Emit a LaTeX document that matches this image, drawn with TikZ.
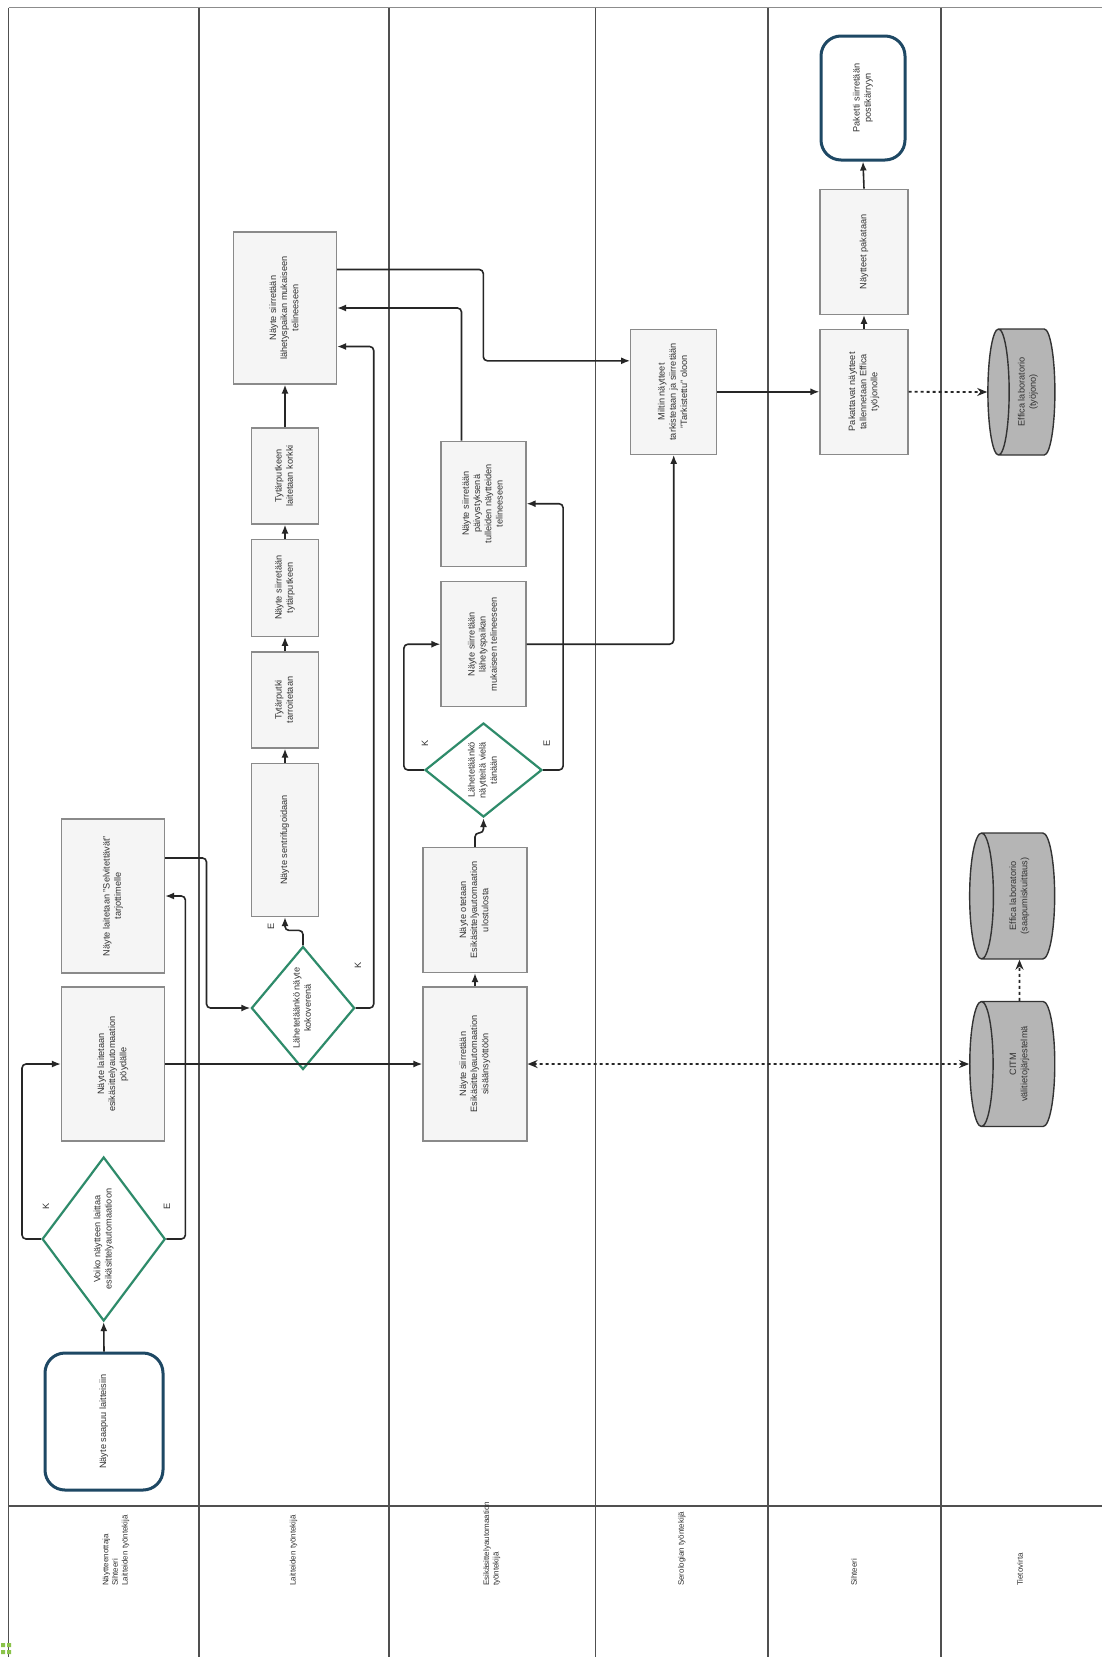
\documentclass[tikz,border=0pt]{standalone}
\usepackage{fontspec}
\setmainfont{Liberation Sans}
\usetikzlibrary{shapes.geometric,arrows.meta,calc}
\newcommand{\rt}[1]{\rotatebox{90}{\begin{tabular}{@{}c@{}}#1\end{tabular}}}
\newcommand{\rl}[1]{\rotatebox{90}{\begin{tabular}{@{}l@{}}#1\end{tabular}}}
\definecolor{boxfill}{HTML}{F5F5F5}
\definecolor{boxline}{HTML}{8A8A8A}
\definecolor{dgreen}{HTML}{2E8B6A}
\definecolor{dblue}{HTML}{1E4864}
\definecolor{lanel}{HTML}{505050}
\definecolor{cylfill}{HTML}{B5B5B5}
\definecolor{txt}{HTML}{333333}
\definecolor{icongreen}{HTML}{8BC34A}
\begin{document}
\begin{tikzpicture}[x=1pt,y=-1pt,
  font=\fontsize{9.2}{11.2}\selectfont, text=txt,
  proc/.style={rectangle, draw=boxline, line width=1.2pt, fill=boxfill, inner sep=1pt},
  dec/.style={diamond, draw=dgreen, line width=2.2pt, fill=white, inner sep=0pt},
  term/.style={rectangle, rounded corners=20pt, draw=dblue, line width=3pt, fill=white, inner sep=1pt},
  dbase/.style={cylinder, shape border rotate=180, aspect=0.3, draw=black!80, line width=1.4pt, fill=cylfill, inner sep=1pt},
  arr/.style={draw=black!85, line width=1.6pt, rounded corners=4pt, -{Latex[length=9pt,width=7pt]}},
  dotarr/.style={draw=black!85, line width=1.8pt, dash pattern=on 3pt off 3pt, -{Stealth[length=10pt,width=8pt]}},
  lane/.style={draw=lanel, line width=1.8pt},
  lbl/.style={inner sep=0pt},
  hdr/.style={inner sep=0pt, anchor=south, font=\fontsize{8}{9.6}\selectfont}
]
\useasboundingbox (0,0) rectangle (1102,1657);
\fill[white] (0,0) rectangle (1102,1657);

% lanes
\draw[draw=black!45, line width=1.5pt] (8.5,7.5) -- (1102,7.5);
\draw[lane] (8.5,7.5) -- (8.5,1657);
\foreach \lx in {198.6,388.8,595.5,768.3,941} {\draw[lane] (\lx,7.5) -- (\lx,1657);}
\draw[lane] (8.5,1506) -- (1102,1506);

% header texts
\node[hdr] (h1) at (116,1586) {\rl{Näytteenottaja\\Sihteeri\\Laitteiden työntekijä}};
\node[hdr] (h2) at (293.7,1586) {\rl{Laitteiden työntekijä}};
\node[hdr] (h3) at (492,1586) {\rl{Esikäsittelyautomaation\\työntekijä}};
\node[hdr] (h4) at (682,1586) {\rl{Serologian työntekijä}};
\node[hdr] (h5) at (855,1586) {\rl{Sihteeri}};
\node[hdr] (h6) at (1021,1586) {\rl{Tietovirta}};

% icon
\fill[icongreen] (1,1643) rectangle (5,1647) (7,1643) rectangle (11,1647) (1,1650) rectangle (5,1654) (7,1650) rectangle (11,1654);

% lane 1
\node[term, minimum width=118pt, minimum height=137pt] (start) at (104,1421.5) {\rt{Näyte saapuu laitteisiin}};
\node[dec, minimum width=121pt, minimum height=164pt] (d1) at (103.7,1239) {\rt{Voiko näytteen laittaa\\esikäsittelyautomaatioon}};
\node[proc, minimum width=103pt, minimum height=154pt] (pov) at (113,1064) {\rt{Näyte laitetaan\\esikäsittelyautomaation\\pöydälle}};
\node[proc, minimum width=103pt, minimum height=154pt] (selv) at (113,896) {\rt{Näyte laitetaan "Selvitettävät"\\tarjottimelle}};

% lane 2
\node[dec, minimum width=100pt, minimum height=123pt] (d2) at (303,1008) {\rt{Lähetetäänkö näyte\\kokoverenä}};
\node[proc, minimum width=67pt, minimum height=153pt] (sent) at (285,840) {\rt{Näyte sentrifugoidaan}};
\node[proc, minimum width=67pt, minimum height=96pt] (tarr) at (285,700) {\rt{Tytärputki\\tarroitetaan}};
\node[proc, minimum width=67pt, minimum height=97pt] (tyt) at (285,587.7) {\rt{Näyte siirretään\\tytärputkeen}};
\node[proc, minimum width=67pt, minimum height=96pt] (kork) at (285,476) {\rt{Tytärputkeen\\laitetaan korkki}};
\node[proc, minimum width=103pt, minimum height=152pt] (big) at (285,308) {\rt{Näyte siirretään\\lähetyspaikan mukaiseen\\telineeseen}};

% lane 3
\node[proc, minimum width=104pt, minimum height=154pt] (sis) at (475,1064) {\rt{Näyte siirretään\\Esikäsittelyautomaation\\sisäänsyöttöön}};
\node[proc, minimum width=104pt, minimum height=125pt] (ote) at (475,910) {\rt{Näyte otetaan\\Esikäsittelyautomaation\\ulostulosta}};
\node[dec, minimum width=117pt, minimum height=94pt] (d3) at (483.5,770) {\rt{Lähetetäänkö\\näytteitä vielä\\tänään}};
\node[proc, minimum width=85pt, minimum height=125pt] (lah3) at (483.5,644.2) {\rt{Näyte siirretään\\lähetyspaikan\\mukaiseen telineeseen}};
\node[proc, minimum width=85pt, minimum height=125pt] (paiv) at (483.5,503.7) {\rt{Näyte siirretään\\päivystyksenä\\tulleiden näytteiden\\telineeseen}};

% lane 4
\node[proc, minimum width=86pt, minimum height=125pt] (milt) at (673.7,391.8) {\rt{Miltin näytteet\\tarkistetaan ja siirretään\\"Tarkistettu" oloon}};

% lane 5
\node[proc, minimum width=88pt, minimum height=125pt] (pak) at (864,391.8) {\rt{Pakattavat näytteet\\tallennetaan Effica\\työjonolle}};
\node[proc, minimum width=88pt, minimum height=125pt] (pakt) at (864,251.8) {\rt{Näytteet pakataan}};
\node[term, minimum width=84pt, minimum height=124pt] (end) at (863,98) {\rt{Paketti siirretään\\postikärryyn}};

% lane 6 (cylinder: minimum height = horizontal axis, minimum width = vertical diameter)
\node[dbase, minimum height=67pt, minimum width=126pt] (efftj) at (1028,392) {\rt{Effica laboratorio\\(työjono)}};
\node[dbase, minimum height=85pt, minimum width=126pt] (effs) at (1019.5,896) {\rt{Effica laboratorio\\(saapumiskuittaus)}};
\node[dbase, minimum height=85pt, minimum width=125pt] (citm) at (1019.5,1064) {\rt{CITM\\välitietojärjestelmä}};

% connectors
\draw[arr] (start.north) -- (d1.south);
\draw[arr] (d1.west) -- ++(-19,0) |- (pov.west);
\draw[arr] (d1.east) -- ++(19,0) |- (selv.east);
\node[lbl] (k1) at (46,1206) {\rotatebox{90}{K}};
\node[lbl] (e1) at (167,1206) {\rotatebox{90}{E}};
\draw[arr] ([yshift=38pt]selv.east) -- ++(41.4,0) |- (d2.west);
\draw[arr] (pov.east) -- (sis.west);
\draw[arr] (d2.north) -- ++(0,-15) -| (sent.south);
\node[lbl] (e2) at (271,926) {\rotatebox{90}{E}};
\draw[arr] (d2.east) -- ++(18,0) |- ([yshift=-38.5pt]big.east);
\node[lbl] (k2) at (358,965) {\rotatebox{90}{K}};
\draw[arr] (sent.north) -- (tarr.south);
\draw[arr] (tarr.north) -- (tyt.south);
\draw[arr] (tyt.north) -- (kork.south);
\draw[arr] (kork.north) -- (big.south);
\coordinate (j9) at (483.3,360.8);
\draw[arr] ([yshift=38.5pt]big.east) -| (j9) -- ([yshift=31pt]milt.west);
\draw[arr] ([xshift=-22pt]paiv.north) |- (big.east);
\draw[arr] (sis.north) -- (ote.south);
\draw[arr] (ote.north) -- ++(0,-14) -| (d3.south);
\draw[arr] (d3.west) -- ++(-20,0) |- (lah3.west);
\draw[arr] (d3.east) -- ++(20,0) |- (paiv.east);
\node[lbl] (k3) at (425,743) {\rotatebox{90}{K}};
\node[lbl] (e3) at (546.7,743) {\rotatebox{90}{E}};
\draw[arr] (lah3.east) -| (milt.south);
\draw[arr] (milt.east) -- (pak.west);
\draw[arr] (pak.north) -- (pakt.south);
\draw[arr] (pakt.north) -- (end.south);
\draw[dotarr] (pak.east) -- (efftj.west);
\draw[dotarr, {Stealth[length=10pt,width=8pt]}-{Stealth[length=10pt,width=8pt]}] (sis.east) -- (citm.west);
\draw[dotarr] (citm.north) -- (effs.south);
\end{tikzpicture}
\end{document}
